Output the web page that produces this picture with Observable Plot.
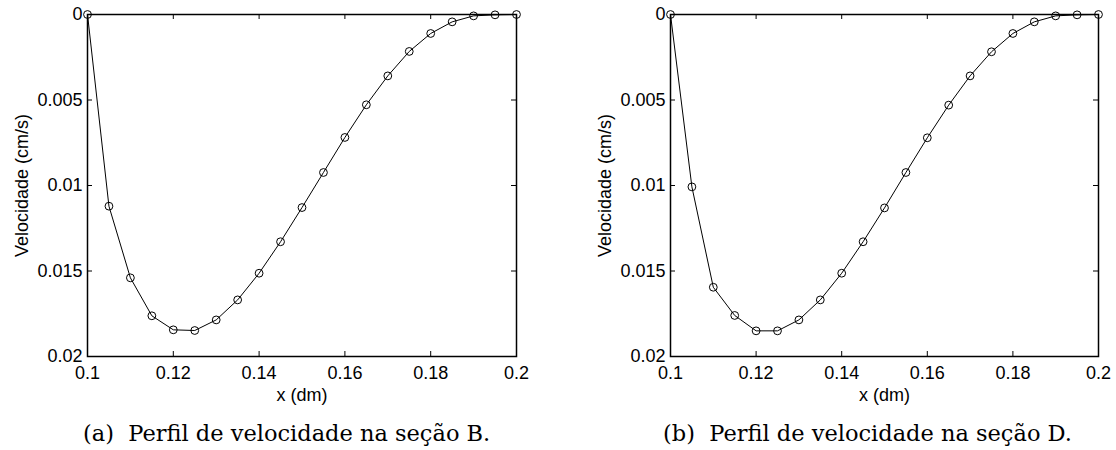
<!DOCTYPE html>
<html><head><meta charset="utf-8">
<script src="https://cdn.jsdelivr.net/npm/d3@7"></script>
<script src="https://cdn.jsdelivr.net/npm/@observablehq/plot@0.6"></script>
<style>
html,body{margin:0;padding:0;background:#fff;}
#wrap{position:relative;width:1116px;height:450px;overflow:hidden;background:#fff;}
.panel{position:absolute;top:0;}
.panel svg text{font-family:"Liberation Sans",Arial,Helvetica,sans-serif;}
.cap{position:absolute;font-family:"DejaVu Serif",serif;font-size:22.5px;line-height:22px;white-space:nowrap;color:#000;}
</style></head><body>
<div id="wrap"></div>
<script>
const xPos = [0.1, 0.105, 0.11, 0.115, 0.12, 0.125, 0.13, 0.135, 0.14, 0.145, 0.15, 0.155, 0.16, 0.165, 0.17, 0.175, 0.18, 0.185, 0.19, 0.195, 0.2];
const velB = [0, 0.01121, 0.0154, 0.01762, 0.01844, 0.01848, 0.01786, 0.01669, 0.01513, 0.01329, 0.01129, 0.00924, 0.00719, 0.00528, 0.00359, 0.00216, 0.00111, 0.00043, 0.00008, 0.00002, 0];
const velD = [0, 0.01008, 0.01595, 0.0176, 0.0185, 0.0185, 0.01786, 0.01669, 0.01513, 0.01329, 0.01131, 0.00924, 0.00721, 0.0053, 0.00359, 0.00218, 0.00111, 0.00043, 0.00008, 0.00002, 0];
const xTicks = [0.1, 0.12, 0.14, 0.16, 0.18, 0.2];
const xTickLabels = ["0.1", "0.12", "0.14", "0.16", "0.18", "0.2"];
const yTicks = [0, 0.005, 0.01, 0.015, 0.02];
const yTickLabels = ["0", "0.005", "0.01", "0.015", "0.02"];
const xLabel = "x (dm)";
const yLabel = "Velocidade (cm/s)";
const captions = ["(a)\u00a0 Perfil de velocidade na seção B.", "(b)\u00a0 Perfil de velocidade na seção D."];

const FONT = "'Liberation Sans', Arial, Helvetica, sans-serif";

function panel(vals, ml, mr) {
  const W = 558, H = 415, mt = 14, mb = 59;
  const iw = W - ml - mr, ih = H - mt - mb;
  const data = xPos.map((x, i) => ({x, v: vals[i]}));
  return Plot.plot({
    width: W, height: H, marginLeft: ml, marginRight: mr, marginTop: mt, marginBottom: mb,
    style: {fontFamily: FONT, fontSize: "18px", color: "#000", background: "#fff"},
    x: {domain: [0.1, 0.2]},
    y: {domain: [0, 0.02], reverse: true},
    marks: [
      Plot.ruleX(xTicks, {stroke: "#000", insetTop: ih - 5}),
      Plot.ruleX(xTicks, {stroke: "#000", insetBottom: ih - 5}),
      Plot.ruleY(yTicks, {stroke: "#000", insetRight: iw - 5}),
      Plot.ruleY(yTicks, {stroke: "#000", insetLeft: iw - 5}),
      Plot.axisX({ticks: xTicks, tickSize: 0, tickPadding: 10, tickFormat: d => xTickLabels[xTicks.indexOf(d)], label: null, fontSize: 18, fontFamily: FONT}),
      Plot.axisY({ticks: yTicks, tickSize: 0, tickPadding: 5, tickFormat: d => yTickLabels[yTicks.indexOf(d)], label: null, fontSize: 18, fontFamily: FONT}),
      Plot.text([xLabel], {frameAnchor: "bottom", dy: 39, lineAnchor: "middle", fontSize: 18, fontFamily: FONT}),
      Plot.text([yLabel], {frameAnchor: "left", dx: -65, rotate: -90, lineAnchor: "middle", textAnchor: "middle", fontSize: 18, fontFamily: FONT}),
      Plot.frame({stroke: "#000", strokeWidth: 1.5}),
      Plot.line(data, {x: "x", y: "v", stroke: "#000", strokeWidth: 1}),
      Plot.dot(data, {x: "x", y: "v", r: 3.9, stroke: "#000", fill: "none", strokeWidth: 1})
    ]
  });
}

const wrap = document.getElementById("wrap");
const specs = [
  {vals: velB, ml: 87, mr: 42, left: 0, capLeft: 83},
  {vals: velD, ml: 112, mr: 18, left: 558, capLeft: 663}
];
specs.forEach((s, i) => {
  const d = document.createElement("div");
  d.className = "panel";
  d.style.left = s.left + "px";
  d.appendChild(panel(s.vals, s.ml, s.mr));
  wrap.appendChild(d);
  const c = document.createElement("div");
  c.className = "cap";
  c.style.left = s.capLeft + "px";
  c.style.top = "422px";
  c.textContent = captions[i];
  wrap.appendChild(c);
});
</script>
</body></html>
